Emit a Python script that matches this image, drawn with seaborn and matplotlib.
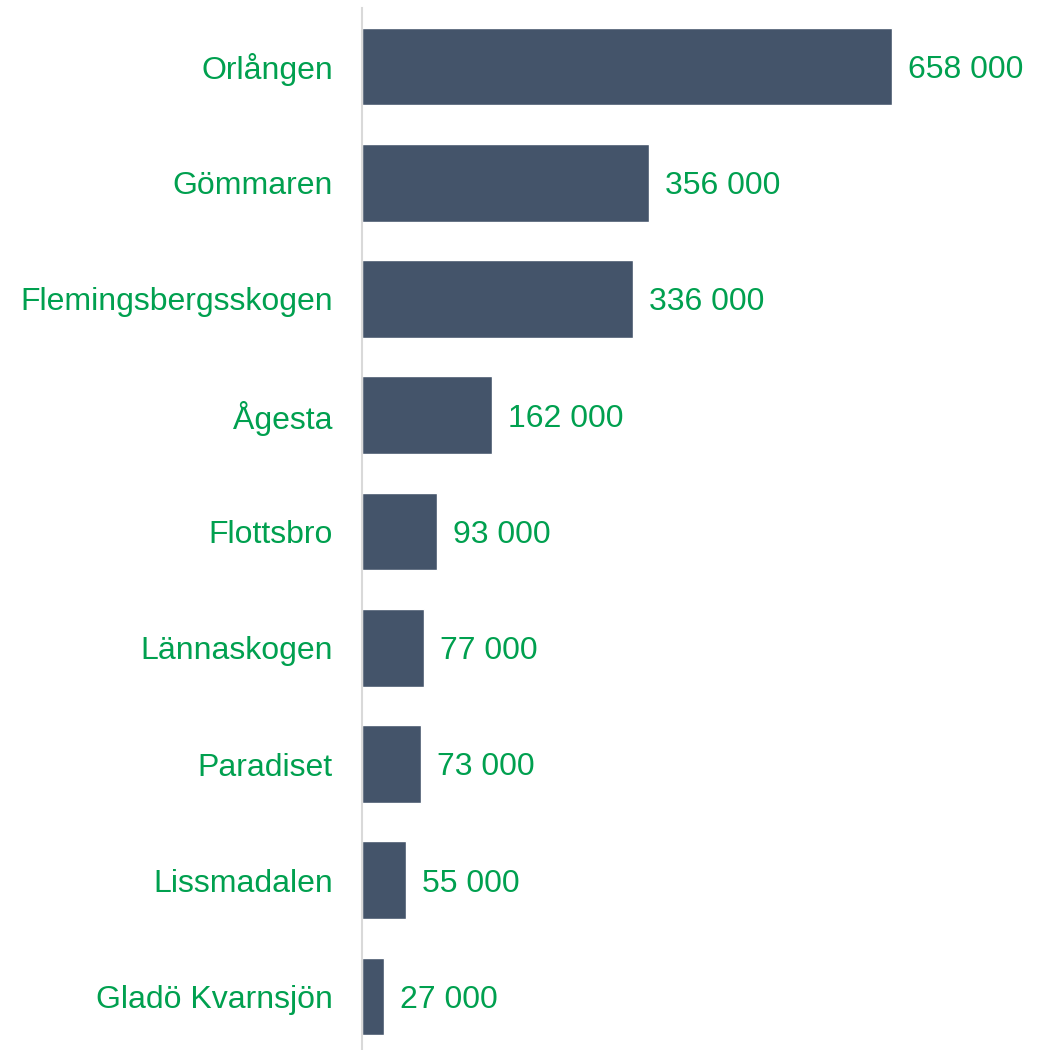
import matplotlib
matplotlib.use("Agg")
import matplotlib.pyplot as plt
import seaborn as sns
import pandas as pd

categories = ["Orlången", "Gömmaren", "Flemingsbergsskogen", "Ågesta", "Flottsbro",
              "Lännaskogen", "Paradiset", "Lissmadalen", "Gladö Kvarnsjön"]
values = [658000, 356000, 336000, 162000, 93000, 77000, 73000, 55000, 27000]

df = pd.DataFrame({"name": categories, "value": values})

sns.set_theme(style="white")
plt.rcParams['font.family'] = ['Liberation Sans', 'DejaVu Sans']

BAR = "#44546A"
GREEN = "#00A04F"

fig = plt.figure(figsize=(10.48, 10.5), dpi=100)
ax = fig.add_axes([362/1048, 0.0, (1040-362)/1048, (1050-8)/1050])

sns.barplot(data=df, x="value", y="name", color=BAR, width=0.67, ax=ax, saturation=1, orient="h")

ax.set_xlim(0, 678/530*658000)
ax.set_ylim(8.46, -0.503)
ax.set_xlabel("")
ax.set_ylabel("")
ax.set_xticks([])
for s in ["top", "right", "bottom"]:
    ax.spines[s].set_visible(False)
ax.spines["left"].set_color("#D9D9D9")
ax.spines["left"].set_linewidth(1.5)
ax.tick_params(axis="y", length=0, pad=21, labelsize=23, labelcolor=GREEN)

for i, v in enumerate(values):
    ax.annotate(f"{v:,}".replace(",", " "), xy=(v, i), xytext=(11.5, -2.5),
                textcoords="offset points", va="center", ha="left",
                fontsize=23, color=GREEN)

fig.savefig("out.png", dpi=100)
